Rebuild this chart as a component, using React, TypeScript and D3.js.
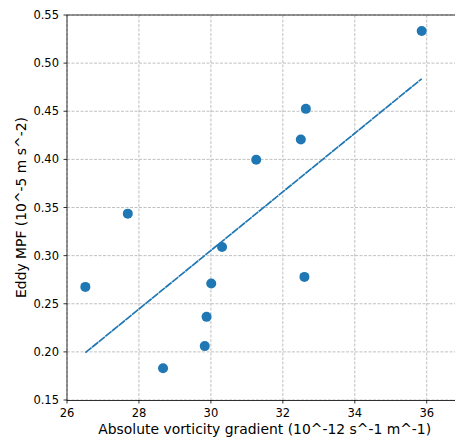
import React from "react";
import * as d3 from "d3";

const xValues = [26.51, 27.69, 28.67, 29.83, 29.88, 30.01, 30.31, 31.26, 32.5, 32.64, 35.86, 32.6];
const yValues = [0.2675, 0.3436, 0.183, 0.206, 0.2364, 0.271, 0.309, 0.3996, 0.4207, 0.4525, 0.5334, 0.2779];
const xTicks = [26, 28, 30, 32, 34, 36];
const yTicks = [0.15, 0.2, 0.25, 0.3, 0.35, 0.4, 0.45, 0.5, 0.55];
const xLabel = "Absolute vorticity gradient (10^-12 s^-1 m^-1)";
const yLabel = "Eddy MPF (10^-5 m s^-2)";

const W = 455;
const H = 442;
const font = "'DejaVu Sans', sans-serif";

export default function App() {
  const x = d3.scaleLinear().domain([26, 37]).range([67, 462.7]);
  const y = d3.scaleLinear().domain([0.15, 0.55]).range([400, 15]);

  const mx = d3.mean(xValues)!;
  const my = d3.mean(yValues)!;
  let sxy = 0, sxx = 0;
  xValues.forEach((v, i) => {
    sxy += (v - mx) * (yValues[i] - my);
    sxx += (v - mx) * (v - mx);
  });
  const slope = sxy / sxx;
  const icpt = my - slope * mx;
  const [xmin, xmax] = d3.extent(xValues) as [number, number];
  const fit = d3.line<number>().x((d) => x(d)).y((d) => y(icpt + slope * d));

  const left = x(26);
  const right = x(37);
  const top = y(0.55);
  const bottom = y(0.15);

  return (
    <svg width={W} height={H} style={{ position: "absolute", left: 0, top: 0, display: "block" }}>
      <rect width={W} height={H} fill="#fff" />
      {xTicks.map((t) => (
        <line key={"gx" + t} x1={x(t)} x2={x(t)} y1={top} y2={bottom} stroke="#b0b0b0" strokeWidth={0.8} strokeDasharray="3,1.5" />
      ))}
      {yTicks.map((t) => (
        <line key={"gy" + t} x1={left} x2={right} y1={y(t)} y2={y(t)} stroke="#b0b0b0" strokeWidth={0.8} strokeDasharray="3,1.5" />
      ))}
      <path d={fit([xmin, xmax]) || ""} fill="none" stroke="#1f77b4" strokeWidth={1.7} strokeDasharray="8,0.6" />
      {xValues.map((v, i) => (
        <circle key={"p" + i} cx={x(v)} cy={y(yValues[i])} r={5} fill="#1f77b4" />
      ))}
      <line x1={left} x2={left} y1={top} y2={bottom + 0.5} stroke="#000" strokeWidth={0.8} />
      <line x1={left} x2={right} y1={top} y2={top} stroke="#000" strokeWidth={0.8} />
      <line x1={left} x2={right} y1={bottom + 0.5} y2={bottom + 0.5} stroke="#000" strokeWidth={0.8} />
      {xTicks.map((t) => (
        <g key={"tx" + t}>
          <line x1={x(t)} x2={x(t)} y1={bottom} y2={bottom + 3.5} stroke="#000" strokeWidth={0.8} />
          <text x={x(t)} y={417} textAnchor="middle" fontFamily={font} fontSize={11.5} fill="#000">{t}</text>
        </g>
      ))}
      {yTicks.map((t) => (
        <g key={"ty" + t}>
          <line x1={left - 3.5} x2={left} y1={y(t)} y2={y(t)} stroke="#000" strokeWidth={0.8} />
          <text x={59} y={y(t)} dy="0.35em" textAnchor="end" fontFamily={font} fontSize={11.5} fill="#000">{t.toFixed(2)}</text>
        </g>
      ))}
      <text x={264.7} y={434} textAnchor="middle" fontFamily={font} fontSize={13.9} fill="#000">{xLabel}</text>
      <text transform={`translate(26,207.5) rotate(-90)`} textAnchor="middle" fontFamily={font} fontSize={13.9} fill="#000">{yLabel}</text>
    </svg>
  );
}
